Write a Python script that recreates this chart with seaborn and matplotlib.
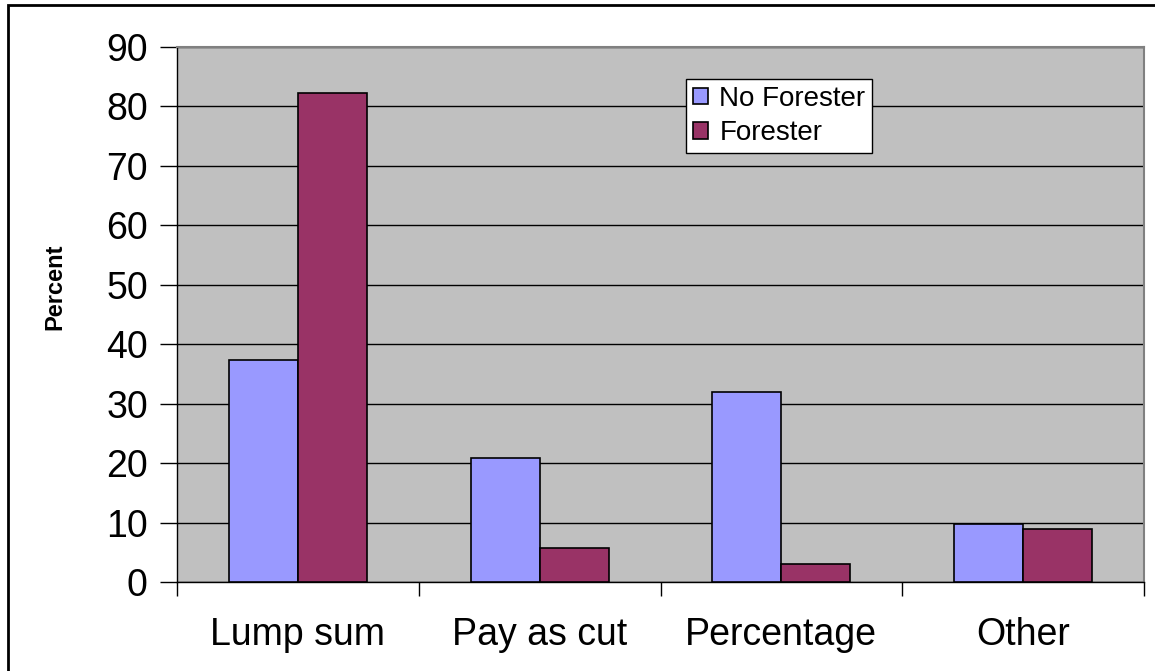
import matplotlib
matplotlib.use("Agg")
import matplotlib.pyplot as plt
import seaborn as sns
import pandas as pd
from matplotlib.patches import Rectangle

# data
categories = ["Lump sum", "Pay as cut", "Percentage", "Other"]
no_forester = [37.3, 20.8, 32.0, 9.7]
forester = [82.3, 5.8, 3.0, 8.9]
series_names = ["No Forester", "Forester"]
y_ticks = [0, 10, 20, 30, 40, 50, 60, 70, 80, 90]

df = pd.DataFrame({
    "category": categories * 2,
    "group": [series_names[0]] * len(categories) + [series_names[1]] * len(categories),
    "percent": no_forester + forester,
})

sns.set_style("white")
plt.rcParams["font.family"] = ["Liberation Sans", "DejaVu Sans"]
plt.rcParams["text.color"] = "black"
plt.rcParams["xtick.color"] = "black"
plt.rcParams["ytick.color"] = "black"

fig = plt.figure(figsize=(11.55, 6.71), dpi=100)
ax = fig.add_axes([177 / 1155, 1 - 582 / 671, (1144 - 177) / 1155, (582 - 47) / 671])
ax.set_facecolor("#C0C0C0")

sns.barplot(data=df, x="category", y="percent", hue="group",
            palette=["#9999FF", "#993366"], saturation=1, width=0.571, gap=0,
            edgecolor="black", linewidth=1.2, ax=ax, zorder=3)

ax.set_ylim(0, 90)
ax.set_xlim(-0.5, len(categories) - 0.5)
ax.set_yticks(y_ticks)
ax.set_yticklabels([str(v) for v in y_ticks], fontsize=27)
ax.yaxis.grid(True, color="black", linewidth=1, zorder=1)
ax.set_axisbelow(True)

# x ticks at category boundaries, labels centered on categories
ax.set_xticks([i - 0.5 for i in range(len(categories) + 1)])
ax.set_xticklabels([])
ax.set_xticks(range(len(categories)), minor=True)
ax.set_xticklabels(categories, minor=True, fontsize=27)
ax.tick_params(axis="x", which="minor", length=0, pad=25)
ax.tick_params(axis="x", which="major", length=10, width=1, direction="out")
ax.tick_params(axis="y", length=12, width=1, direction="out", pad=9)
ax.tick_params(bottom=True, left=True)

for side in ["left", "bottom"]:
    ax.spines[side].set_color("black")
    ax.spines[side].set_linewidth(1)
for side in ["top", "right"]:
    ax.spines[side].set_color("#808080")
    ax.spines[side].set_linewidth(1.5)

ax.set_xlabel("")
ax.set_ylabel("")
fig.text(55 / 1155, 1 - 287 / 671, "Percent", rotation=90, fontsize=17,
         fontweight="bold", ha="center", va="center")

leg = ax.legend(loc="upper left", bbox_to_anchor=((686 - 177) / 967, (582 - 79) / 535),
                fontsize=20, frameon=True, fancybox=False, edgecolor="black",
                framealpha=1, handlelength=0.55, handleheight=0.55,
                handletextpad=0.4, borderpad=0.25, labelspacing=0.3,
                borderaxespad=0)
leg.get_frame().set_linewidth(1)

# outer chart border
fig.patches.append(Rectangle((8 / 1155, -0.05), 1.2, 1 - 5 / 671 + 0.05,
                             transform=fig.transFigure, fill=False,
                             edgecolor="black", linewidth=2))

fig.savefig("out.png", dpi=100)
